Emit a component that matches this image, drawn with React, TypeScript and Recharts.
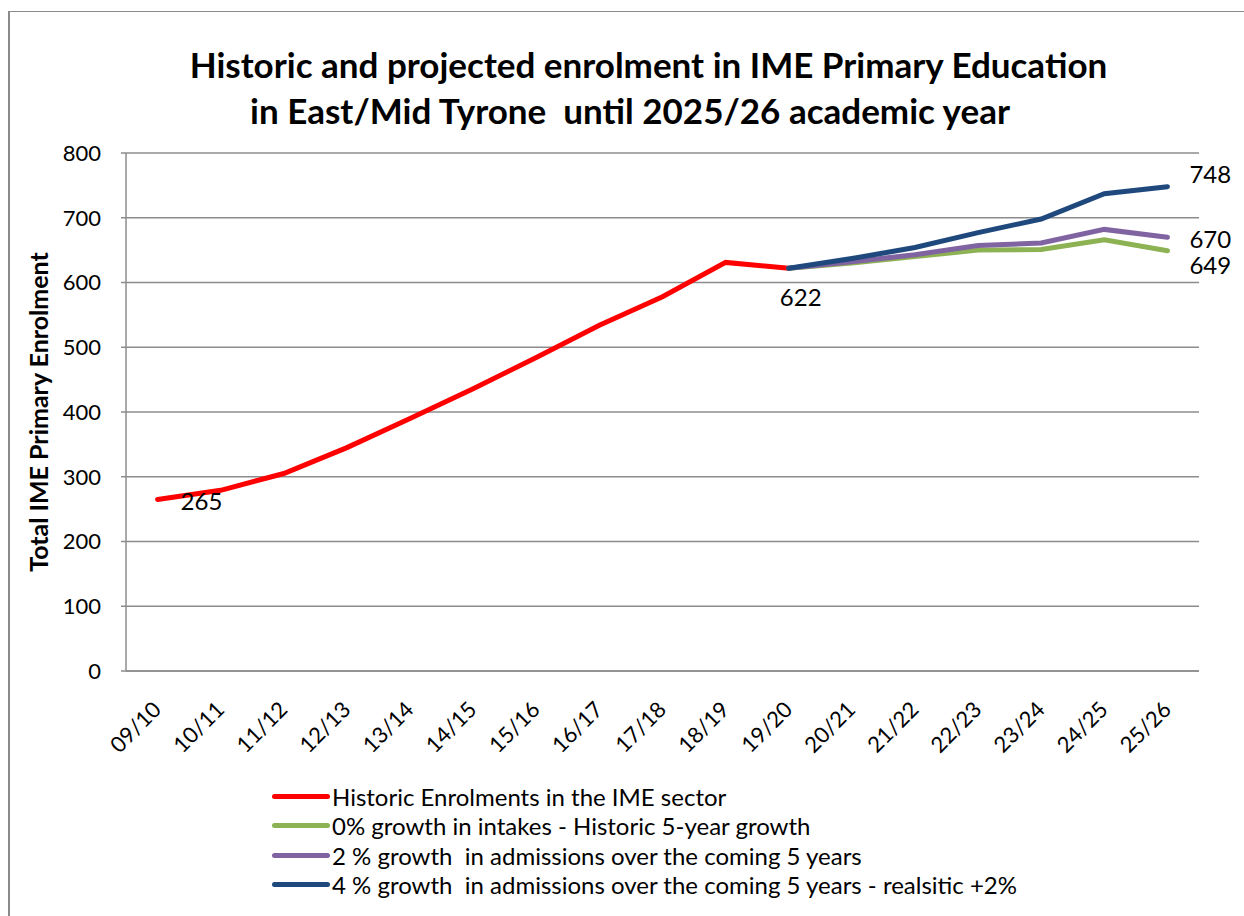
import React from 'react';
import { LineChart, Line, XAxis, YAxis, CartesianGrid, Legend, LabelList } from 'recharts';

const years = ['09/10', '10/11', '11/12', '12/13', '13/14', '14/15', '15/16', '16/17', '17/18', '18/19', '19/20', '20/21', '21/22', '22/23', '23/24', '24/25', '25/26'];

// historic series stops at 19/20, projections start there
const historic = [265, 279, 305, 345, 390, 436, 484, 534, 578, 631, 622];
const growth0 = [622, 630, 640, 650, 651, 666, 649];
const growth2 = [622, 632, 643, 657, 661, 682, 670];
const growth4 = [622, 637, 654, 677, 698, 737, 748];

const yTicks = [0, 100, 200, 300, 400, 500, 600, 700, 800];

const seriesNames = [
  'Historic Enrolments in the IME sector',
  '0% growth in intakes - Historic 5-year growth',
  '2 % growth  in admissions over the coming 5 years',
  '4 % growth  in admissions over the coming 5 years - realsitic +2%',
];
const seriesColors = ['#FF0000', '#8DB254', '#8064A2', '#1F497D'];

const projStart = historic.length - 1;

const data = years.map((year, i) => ({
  year,
  historic: i < historic.length ? historic[i] : null,
  g0: i >= projStart ? growth0[i - projStart] : null,
  g2: i >= projStart ? growth2[i - projStart] : null,
  g4: i >= projStart ? growth4[i - projStart] : null,
}));

const FONT = 'Lato, "Liberation Sans", sans-serif';

const XTick = ({ x, y, payload }: any) => (
  <text
    x={x + 5}
    y={y + 32}
    transform={`rotate(-45 ${x + 5} ${y + 32})`}
    textAnchor="end"
    fontSize={22}
    fontFamily={FONT}
    fill="#000"
  >
    {payload.value}
  </text>
);

// only a few points carry labels in the original
const makeLabel = (show: Record<number, { dx: number; dy: number; anchor?: string }>) =>
  (props: any) => {
    const { x, y, value, index } = props;
    const s = show[index];
    if (!s || value == null) return null;
    return (
      <text
        x={x + s.dx}
        y={y + s.dy}
        textAnchor={s.anchor || 'start'}
        dominantBaseline="central"
        fontSize={24}
        fontFamily={FONT}
        fill="#000"
      >
        {value}
      </text>
    );
  };

const last = years.length - 1;

const LegendBox = () => (
  <div style={{ fontFamily: FONT, fontSize: 24, lineHeight: '29.3px', color: '#000' }}>
    {seriesNames.map((name, i) => (
      <div key={name} style={{ display: 'flex', alignItems: 'center', whiteSpace: 'pre' }}>
        <span
          style={{
            display: 'inline-block',
            width: 58,
            height: 5,
            borderRadius: 3,
            background: seriesColors[i],
            marginRight: 2,
          }}
        />
        {name}
      </div>
    ))}
  </div>
);

export default function App() {
  return (
    <div style={{ position: 'absolute', left: 0, top: 0, width: 1244, height: 916, background: '#fff', overflow: 'hidden' }}>
      <div
        style={{
          position: 'absolute',
          left: 8,
          top: 11,
          width: 1244,
          height: 916,
          borderLeft: '2px solid #8a8a8a',
          borderTop: '1.5px solid #8a8a8a',
        }}
      />
      <div
        style={{
          position: 'absolute',
          left: 0,
          top: 41,
          width: 1297,
          textAlign: 'center',
          fontFamily: FONT,
          fontWeight: 'bold',
          fontSize: 35,
          lineHeight: '46px',
          whiteSpace: 'pre',
        }}
      >
        {'Historic and projected enrolment in IME Primary Education'}
      </div>
      <div
        style={{
          position: 'absolute',
          left: 0,
          top: 87,
          width: 1260,
          textAlign: 'center',
          fontFamily: FONT,
          fontWeight: 'bold',
          fontSize: 35,
          lineHeight: '46px',
          whiteSpace: 'pre',
        }}
      >
        {'in East/Mid Tyrone  until 2025/26 academic year'}
      </div>
      <div
        style={{
          position: 'absolute',
          left: 38,
          top: 412,
          transform: 'translate(-50%, -50%) rotate(-90deg)',
          fontFamily: FONT,
          fontWeight: 'bold',
          fontSize: 25,
          whiteSpace: 'nowrap',
        }}
      >
        Total IME Primary Enrolment
      </div>
      <div style={{ position: 'absolute', left: 0, top: 0 }}>
        <LineChart
          width={1244}
          height={916}
          data={data}
          margin={{ top: 153, right: 45, bottom: 185, left: 66 }}
        >
          <CartesianGrid vertical={false} stroke="#8c8c8c" strokeWidth={1.3} />
          <XAxis
            dataKey="year"
            height={60}
            padding={{ left: 31.56, right: 31.56 }}
            tick={<XTick />}
            tickLine={false}
            interval={0}
            stroke="#8c8c8c"
            strokeWidth={1.5}
          />
          <YAxis
            width={60}
            domain={[0, 800]}
            ticks={yTicks}
            tickSize={5}
            tickMargin={20}
            stroke="#8c8c8c"
            strokeWidth={1.5}
            tick={{ fontSize: 22, fontFamily: FONT, fill: '#000' }}
          />
          <Legend
            layout="vertical"
            align="center"
            verticalAlign="middle"
            wrapperStyle={{ left: 272, top: 782, width: 900 }}
            content={<LegendBox />}
          />
          <Line
            dataKey="historic"
            name={seriesNames[0]}
            stroke={seriesColors[0]}
            strokeWidth={5}
            strokeLinecap="round"
            dot={false}
            isAnimationActive={false}
          >
            <LabelList dataKey="historic" content={makeLabel({ 0: { dx: 23, dy: 1 } })} />
          </Line>
          <Line
            dataKey="g0"
            name={seriesNames[1]}
            stroke={seriesColors[1]}
            strokeWidth={5}
            strokeLinecap="round"
            dot={false}
            isAnimationActive={false}
          >
            <LabelList dataKey="g0" content={makeLabel({ [last]: { dx: 22, dy: 14 } })} />
          </Line>
          <Line
            dataKey="g2"
            name={seriesNames[2]}
            stroke={seriesColors[2]}
            strokeWidth={5}
            strokeLinecap="round"
            dot={false}
            isAnimationActive={false}
          >
            <LabelList dataKey="g2" content={makeLabel({ [last]: { dx: 22, dy: 1 } })} />
          </Line>
          <Line
            dataKey="g4"
            name={seriesNames[3]}
            stroke={seriesColors[3]}
            strokeWidth={5}
            strokeLinecap="round"
            dot={false}
            isAnimationActive={false}
          >
            <LabelList
              dataKey="g4"
              content={makeLabel({
                [projStart]: { dx: 12, dy: 28, anchor: 'middle' },
                [last]: { dx: 22, dy: -13 },
              })}
            />
          </Line>
        </LineChart>
      </div>
    </div>
  );
}
